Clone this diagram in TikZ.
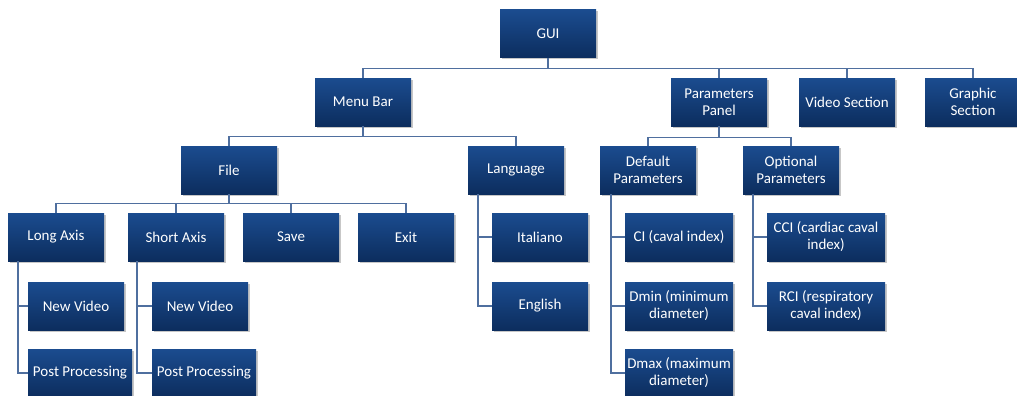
\documentclass[tikz,border=0pt]{standalone}
\usepackage{fontspec}
\setmainfont{Carlito}
\usetikzlibrary{shadows}
\definecolor{boxtop}{HTML}{1B4C8F}
\definecolor{boxbot}{HTML}{0C2D5E}
\definecolor{linkc}{HTML}{4F6F9F}
\tikzset{
  box/.style={rectangle, top color=boxtop, bottom color=boxbot, draw=none,
    text=white, minimum width=96pt, minimum height=48pt, inner sep=2pt,
    align=center, font=\fontsize{15}{17}\selectfont,
    drop shadow={shadow xshift=1.5pt, shadow yshift=-1.5pt, fill=black, opacity=0.22}},
  link/.style={draw=linkc, line width=1.1pt},
}
\begin{document}
\begin{tikzpicture}[x=1pt,y=-1pt]
\useasboundingbox (0,0) rectangle (1017,396);
% level 0
\node[box] (gui) at (548,34) {GUI};
% level 1
\node[box] (menu) at (363,102) {Menu Bar};
\node[box] (params) at (719,102) {Parameters\\Panel};
\node[box] (video) at (847,102) {Video Section};
\node[box] (graphic) at (973,102) {Graphic\\Section};
% level 2
\node[box] (file) at (229,170) {File};
\node[box] (lang) at (516,170) {Language};
\node[box] (default) at (648,170) {Default\\Parameters};
\node[box] (optional) at (791,170) {Optional\\Parameters};
% level 3
\node[box] (long) at (56,237) {Long Axis};
\node[box] (short) at (176,237) {Short Axis};
\node[box] (save) at (291,237) {Save};
\node[box] (exit) at (406,237) {Exit};
% children
\node[box] (nvl) at (76,306) {New Video};
\node[box, minimum width=104pt] (ppl) at (80,373) {Post Processing};
\node[box] (nvs) at (200,306) {New Video};
\node[box, minimum width=104pt] (pps) at (204,373) {Post Processing};
\node[box] (ita) at (540,237) {Italiano};
\node[box] (eng) at (540,306) {English};
\node[box, minimum width=108pt] (ci) at (679,237) {CI (caval index)};
\node[box, minimum width=108pt] (dmin) at (679,306) {Dmin (minimum\\diameter)};
\node[box, minimum width=108pt] (dmax) at (679,373) {Dmax (maximum\\diameter)};
\node[box, minimum width=118pt] (cci) at (826,237) {CCI (cardiac caval\\index)};
\node[box, minimum width=118pt] (rci) at (826,306) {RCI (respiratory\\caval index)};
% connectors
\begin{scope}[on background layer/.style={}]
\foreach \c in {menu,params,video,graphic}
  \draw[link] (gui.south) -- ++(0,10) -| (\c.north);
\foreach \c in {file,lang}
  \draw[link] (menu.south) -- ++(0,10) -| (\c.north);
\foreach \c in {long,short,save,exit}
  \draw[link] (file.south) -- ++(0,9) -| (\c.north);
\foreach \c in {default,optional}
  \draw[link] (params.south) -- ++(0,11) -| (\c.north);
\foreach \c in {nvl,ppl}
  \draw[link] ([xshift=-38pt]long.south) |- (\c.west);
\foreach \c in {nvs,pps}
  \draw[link] ([xshift=-39pt]short.south) |- (\c.west);
\foreach \c in {ita,eng}
  \draw[link] ([xshift=-38pt]lang.south) |- (\c.west);
\foreach \c in {ci,dmin,dmax}
  \draw[link] ([xshift=-37pt]default.south) |- (\c.west);
\foreach \c in {cci,rci}
  \draw[link] ([xshift=-38pt]optional.south) |- (\c.west);
\end{scope}
\end{tikzpicture}
\end{document}
